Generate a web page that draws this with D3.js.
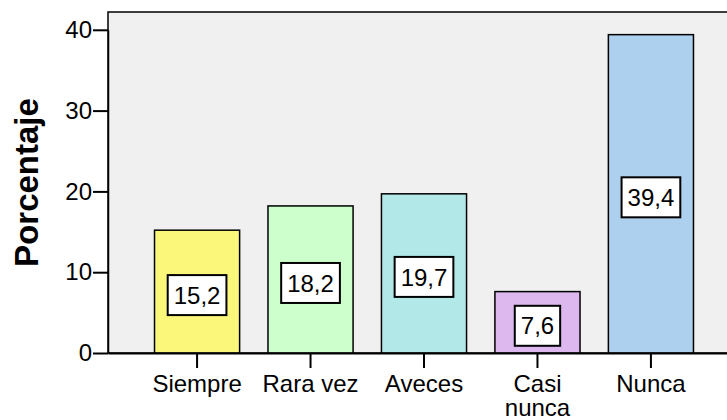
<!DOCTYPE html>
<meta charset="utf-8">
<script src="https://d3js.org/d3.v7.min.js"></script>
<style>
  body { margin: 0; background: #fff; }
  text { font-family: Arial, "Liberation Sans", sans-serif; }
</style>
<div id="chart"></div>
<script>
  // data
  const categories = ["Siempre", "Rara vez", "Aveces", "Casi nunca", "Nunca"];
  const values = [15.2, 18.2, 19.7, 7.6, 39.4];
  const colors = ["#fbf77a", "#ccffcc", "#b3e8e8", "#ddb8ee", "#add0ee"];
  const yTicks = [0, 10, 20, 30, 40];

  const W = 727, H = 420;
  const plot = { left: 108, top: 12, right: 740, bottom: 353 };

  const svg = d3.select("#chart").append("svg")
    .attr("width", W).attr("height", H);

  const x = d3.scaleBand()
    .domain(categories)
    .range([plot.left, plot.right])
    .paddingInner(0.25)
    .paddingOuter(0.41);

  const y = d3.scaleLinear()
    .domain([0, 40])
    .range([plot.bottom, plot.bottom - 4 * 80.8]);

  // plot background
  svg.append("rect")
    .attr("x", plot.left).attr("y", plot.top)
    .attr("width", plot.right - plot.left).attr("height", plot.bottom - plot.top)
    .attr("fill", "#f0f0f0")
    .attr("stroke", "#000").attr("stroke-width", 1.5);

  // bars
  svg.selectAll(".bar")
    .data(values)
    .enter().append("rect")
    .attr("class", "bar")
    .attr("x", (d, i) => x(categories[i]))
    .attr("y", d => y(d))
    .attr("width", x.bandwidth())
    .attr("height", d => y(0) - y(d))
    .attr("fill", (d, i) => colors[i])
    .attr("stroke", "#000").attr("stroke-width", 1.5);

  // y axis
  const yAxis = svg.append("g")
    .attr("transform", `translate(${plot.left},0)`)
    .call(d3.axisLeft(y).tickValues(yTicks).tickSize(15).tickSizeOuter(0).tickPadding(1));
  yAxis.select(".domain").attr("stroke", "#000").attr("stroke-width", 1.5);
  yAxis.selectAll(".tick line").attr("stroke", "#000").attr("stroke-width", 2);
  yAxis.selectAll("text").attr("font-size", 24).attr("fill", "#000")
    .attr("font-family", "Arial, 'Liberation Sans', sans-serif");

  // x axis
  const xAxis = svg.append("g")
    .attr("transform", `translate(0,${plot.bottom})`)
    .call(d3.axisBottom(x).tickSize(15).tickSizeOuter(0).tickPadding(7));
  xAxis.select(".domain").attr("stroke", "#000").attr("stroke-width", 2);
  xAxis.selectAll(".tick line").attr("stroke", "#000").attr("stroke-width", 2);
  xAxis.selectAll("text").attr("font-size", 24).attr("fill", "#000")
    .attr("font-family", "Arial, 'Liberation Sans', sans-serif")
    .each(function (d) {
      const t = d3.select(this);
      if (d === "Casi nunca") {
        t.text(null);
        t.append("tspan").attr("x", 0).attr("dy", "0.71em").text("Casi");
        t.append("tspan").attr("x", 0).attr("dy", "1.0em").text("nunca");
        t.attr("dy", null);
      }
    });

  // value labels
  const labels = svg.selectAll(".lbl")
    .data(values)
    .enter().append("g")
    .attr("class", "lbl")
    .attr("transform", (d, i) =>
      `translate(${x(categories[i]) + x.bandwidth() / 2},${(y(d) + y(0)) / 2 + 3.5})`);
  labels.append("rect").attr("class", "box");
  labels.append("text")
    .attr("text-anchor", "middle")
    .attr("dy", "0.36em")
    .attr("font-size", 24)
    .text(d => d3.format(".1f")(d).replace(".", ","));
  labels.each(function () {
    const g = d3.select(this);
    const bb = g.select("text").node().getBBox();
    const w = bb.width + 12, h = 40;
    g.select("rect.box")
      .attr("x", -w / 2).attr("y", -h / 2)
      .attr("width", w).attr("height", h)
      .attr("fill", "#fff").attr("stroke", "#000").attr("stroke-width", 2);
  });

  // y axis title
  svg.append("text")
    .attr("transform", `translate(38,${(plot.top + plot.bottom) / 2}) rotate(-90)`)
    .attr("text-anchor", "middle")
    .attr("font-size", 33)
    .attr("font-weight", "bold")
    .text("Porcentaje");
</script>
